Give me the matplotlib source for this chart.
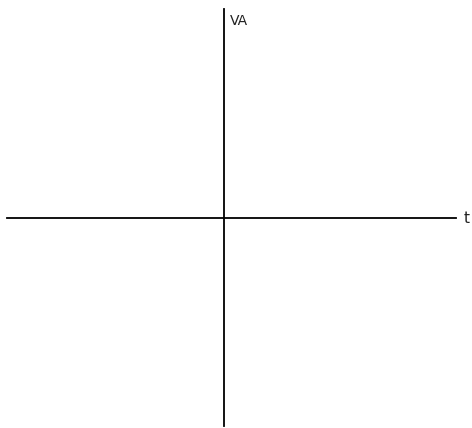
import matplotlib
matplotlib.use("Agg")
import matplotlib.pyplot as plt

# axis extents in pixel space of the sketch
h_axis = (7, 456)      # horizontal axis x range
v_axis = (9, 426)      # vertical axis y range
origin = (224, 218)
labels = ["VA", "t"]

fig = plt.figure(figsize=(4.72, 4.28), dpi=100)
ax = fig.add_axes([0, 0, 1, 1])
ax.set_xlim(0, 472)
ax.set_ylim(428, 0)
ax.axis("off")

ax.plot(h_axis, [origin[1], origin[1]], color="black", lw=1.3)
ax.plot([origin[0], origin[0]], v_axis, color="black", lw=1.3)

ax.text(origin[0] + 6, 21, labels[0], fontsize=10, va="center", ha="left",
        family="DejaVu Sans", color="#222222")
ax.text(h_axis[1] + 8, origin[1], labels[1], fontsize=11, va="center", ha="left",
        family="DejaVu Sans", color="#222222")

fig.savefig("out.png", dpi=100)
